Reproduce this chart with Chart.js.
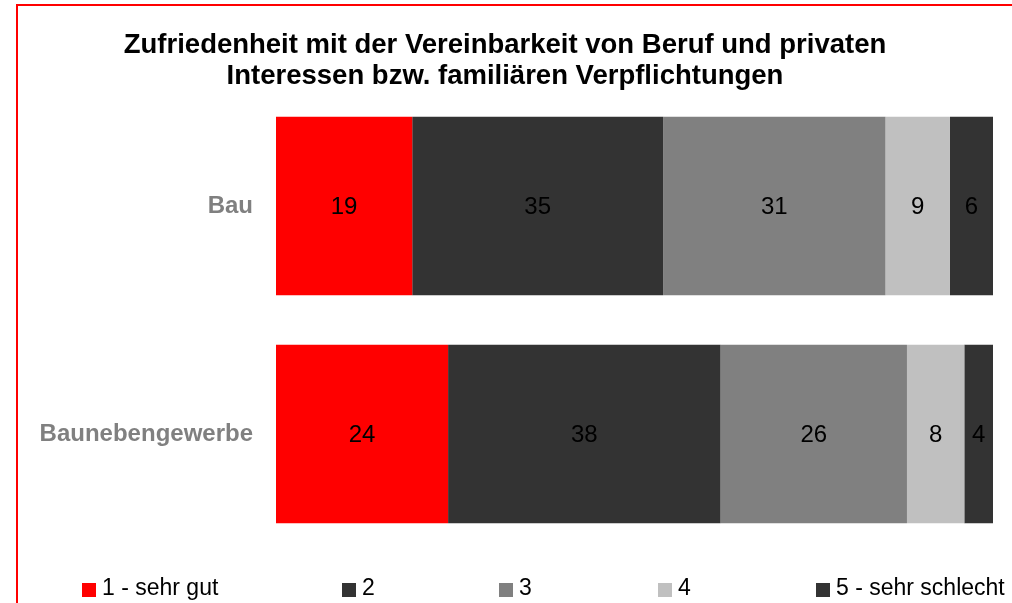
<!DOCTYPE html>
<html><head><meta charset="utf-8">
<script src="https://cdn.jsdelivr.net/npm/chart.js@4.4.1/dist/chart.umd.min.js"></script>
<style>html,body{margin:0;padding:0;background:#fff}#wrap{width:1012px;height:603px;position:relative}</style>
</head><body><div id="wrap"><canvas id="c" width="1012" height="603"></canvas></div>
<script>
const titleLines = ["Zufriedenheit mit der Vereinbarkeit von Beruf und privaten", "Interessen bzw. familiären Verpflichtungen"];
const categories = ["Bau", "Baunebengewerbe"];
const seriesNames = ["1 - sehr gut", "2", "3", "4", "5 - sehr schlecht"];
const s1 = [19, 24];
const s2 = [35, 38];
const s3 = [31, 26];
const s4 = [9, 8];
const s5 = [6, 4];
const colors = ["#FF0000", "#333333", "#808080", "#C0C0C0", "#333333"];
const legendX = [82, 342, 499, 658, 816];
const FONT = "'Liberation Sans', Arial, sans-serif";

const overlay = {
  id: 'overlay',
  afterDraw(chart) {
    const ctx = chart.ctx;
    ctx.save();
    // frame
    ctx.strokeStyle = '#FF0000';
    ctx.lineWidth = 2;
    ctx.beginPath();
    ctx.moveTo(17, 603); ctx.lineTo(17, 5); ctx.lineTo(1012, 5);
    ctx.stroke();
    // title
    ctx.fillStyle = '#000';
    ctx.font = 'bold 27.5px ' + FONT;
    ctx.textAlign = 'center';
    ctx.textBaseline = 'middle';
    ctx.fillText(titleLines[0], 505, 45);
    ctx.fillText(titleLines[1], 505, 76);
    // data labels
    ctx.font = '24px ' + FONT;
    chart.data.datasets.forEach((ds, i) => {
      const meta = chart.getDatasetMeta(i);
      meta.data.forEach((bar, j) => {
        const p = bar.getCenterPoint();
        ctx.fillText(String(ds.data[j]), p.x, p.y + 1);
      });
    });
    // legend
    ctx.font = '23px ' + FONT;
    ctx.textAlign = 'left';
    chart.data.datasets.forEach((ds, i) => {
      const x = legendX[i];
      ctx.fillStyle = ds.backgroundColor;
      ctx.fillRect(x, 583, 14, 14);
      ctx.fillStyle = '#000';
      ctx.fillText(ds.label, x + 20, 589);
    });
    ctx.restore();
  }
};

const seriesData = [s1, s2, s3, s4, s5];
new Chart(document.getElementById('c'), {
  type: 'bar',
  data: {
    labels: categories,
    datasets: seriesNames.map((n, i) => ({
      label: n, data: seriesData[i], backgroundColor: colors[i],
      borderWidth: 0, barPercentage: 0.782, categoryPercentage: 1
    }))
  },
  options: {
    indexAxis: 'y',
    responsive: false,
    animation: false,
    devicePixelRatio: 1,
    layout: { padding: { left: 0, right: 19, top: 92, bottom: 55 } },
    plugins: { legend: { display: false }, tooltip: { enabled: false }, title: { display: false } },
    scales: {
      x: { stacked: true, min: 0, max: 100, display: false },
      y: {
        stacked: true,
        grid: { display: false, drawTicks: false },
        border: { display: false },
        afterFit(s) { s.width = 276; },
        ticks: { color: '#808080', font: { family: FONT, size: 24, weight: 'bold' }, padding: 23 }
      }
    }
  },
  plugins: [overlay]
});
</script></body></html>
